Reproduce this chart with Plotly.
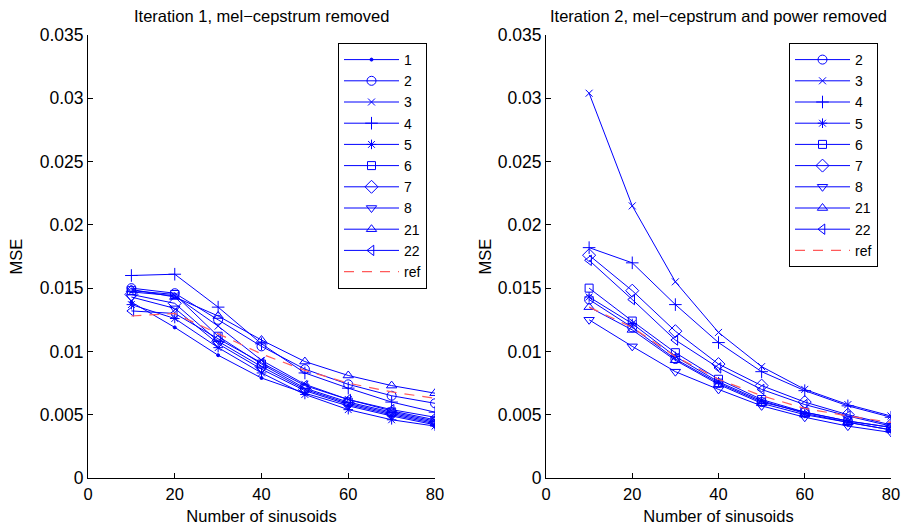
import plotly.graph_objects as go

# ---------------- data ----------------
x_vals = [10, 20, 30, 40, 50, 60, 70, 80]

left_names = ["1", "2", "3", "4", "5", "6", "7", "8", "21", "22"]
left_series = {
    "1":  [0.0139, 0.0119, 0.0097, 0.0079, 0.0067, 0.0057, 0.0049, 0.0042],
    "2":  [0.0150, 0.0146, 0.0125, 0.0104, 0.0086, 0.0074, 0.0065, 0.0059],
    "3":  [0.0147, 0.0144, 0.0120, 0.0093, 0.0074, 0.0062, 0.0053, 0.0046],
    "4":  [0.0160, 0.0161, 0.0135, 0.0106, 0.0083, 0.0071, 0.0060, 0.0052],
    "5":  [0.0137, 0.0126, 0.0103, 0.0083, 0.0066, 0.0054, 0.0046, 0.0041],
    "6":  [0.0148, 0.0145, 0.0112, 0.0090, 0.0071, 0.0060, 0.0052, 0.0045],
    "7":  [0.0145, 0.0138, 0.0108, 0.0088, 0.0070, 0.0059, 0.0051, 0.0044],
    "8":  [0.0143, 0.0134, 0.0106, 0.0086, 0.0069, 0.0058, 0.0050, 0.0043],
    "21": [0.0149, 0.0143, 0.0128, 0.0109, 0.0092, 0.0081, 0.0073, 0.0067],
    "22": [0.0132, 0.0130, 0.0110, 0.0091, 0.0073, 0.0062, 0.0054, 0.0048],
}
left_ref = [0.0128, 0.0130, 0.0114, 0.0098, 0.0085, 0.0075, 0.0068, 0.0063]

right_names = ["2", "3", "4", "5", "6", "7", "8", "21", "22"]
right_series = {
    "2":  [0.0141, 0.0119, 0.0094, 0.0075, 0.0060, 0.0052, 0.0045, 0.0040],
    "3":  [0.0304, 0.0215, 0.0155, 0.0115, 0.0088, 0.0070, 0.0058, 0.0049],
    "4":  [0.0182, 0.0170, 0.0137, 0.0107, 0.0084, 0.0069, 0.0057, 0.0048],
    "5":  [0.0143, 0.0122, 0.0096, 0.0076, 0.0061, 0.0051, 0.0044, 0.0038],
    "6":  [0.0150, 0.0124, 0.0099, 0.0078, 0.0062, 0.0052, 0.0045, 0.0040],
    "7":  [0.0176, 0.0148, 0.0116, 0.0090, 0.0073, 0.0060, 0.0050, 0.0042],
    "8":  [0.0125, 0.0104, 0.0084, 0.0070, 0.0057, 0.0048, 0.0041, 0.0036],
    "21": [0.0135, 0.0117, 0.0093, 0.0074, 0.0059, 0.0050, 0.0044, 0.0038],
    "22": [0.0172, 0.0141, 0.0109, 0.0087, 0.0070, 0.0058, 0.0049, 0.0041],
}
right_ref = [0.0135, 0.0119, 0.0096, 0.0078, 0.0065, 0.0055, 0.0049, 0.0044]

y_tickvals = [0, 0.005, 0.01, 0.015, 0.02, 0.025, 0.03, 0.035]
y_ticktext = ["0", "0.005", "0.01", "0.015", "0.02", "0.025", "0.03", "0.035"]
x_tickvals = [0, 20, 40, 60, 80]

title_left = "Iteration 1, mel\u2212cepstrum removed"
title_right = "Iteration 2, mel\u2212cepstrum and power removed"
x_title = "Number of sinusoids"
y_title = "MSE"

# ---------------- styles ----------------
BLUE = "#0000ff"
symbols = {
    "1": ("circle", 3),
    "2": ("circle-open", 9),
    "3": ("x-thin-open", 7),
    "4": ("cross-thin-open", 9),
    "5": ("asterisk-open", 8),
    "6": ("square-open", 8),
    "7": ("diamond-open", 10),
    "8": ("triangle-down-open", 9),
    "21": ("triangle-up-open", 9),
    "22": ("triangle-left-open", 9),
}

FONT = "Liberation Sans, Arial, Helvetica, sans-serif"
FS = 16.5

fig = go.Figure()

def add_series(names, data, ref, xa, ya, legend):
    for n in names:
        sym, sz = symbols[n]
        fig.add_trace(go.Scatter(
            x=x_vals, y=data[n], name=n, mode="lines+markers",
            line=dict(color=BLUE, width=1),
            marker=dict(symbol=sym, size=sz, color=BLUE,
                        line=dict(color=BLUE, width=1)),
            xaxis=xa, yaxis=ya, legend=legend, hoverinfo="skip",
        ))
    fig.add_trace(go.Scatter(
        x=x_vals, y=ref, name="ref", mode="lines",
        line=dict(color="#ff5a5a", width=1.2, dash="10px,8px"),
        xaxis=xa, yaxis=ya, legend=legend, hoverinfo="skip",
    ))

add_series(left_names, left_series, left_ref, "x", "y", "legend")
add_series(right_names, right_series, right_ref, "x2", "y2", "legend2")

W, H = 904, 527
x0L, x1L = 88 / W, 435 / W
x0R, x1R = 546 / W, 891 / W
yb, yt = 1 - 478 / H, 1 - 35 / H

axis_common = dict(
    showline=True, linecolor="black", linewidth=1,
    ticks="inside", ticklen=5, tickcolor="black",
    showgrid=False, zeroline=False, mirror=False,
)

xax = dict(axis_common, range=[0, 80], tickvals=x_tickvals,
           ticklabelstandoff=1,
           tickfont=dict(family=FONT, size=16.5, color="black"),
           title=dict(text=x_title,
                      font=dict(family=FONT, size=FS, color="black"),
                      standoff=8))
yax = dict(axis_common, range=[0, 0.035], tickvals=y_tickvals,
           ticktext=y_ticktext,
           tickfont=dict(family=FONT, size=17.5, color="black"))

legend_common = dict(
    bgcolor="white", bordercolor="black", borderwidth=1,
    font=dict(family=FONT, size=14, color="black"),
    xanchor="right", yanchor="top", tracegroupgap=0,
    itemwidth=55,
)

title_font = dict(family=FONT, size=FS, color="black")

fig.update_layout(
    width=W, height=H,
    margin=dict(l=0, r=0, t=0, b=0, autoexpand=False),
    paper_bgcolor="white", plot_bgcolor="white",
    hovermode=False,
    xaxis=dict(xax, domain=[x0L, x1L], anchor="y"),
    yaxis=dict(yax, domain=[yb, yt], anchor="x"),
    xaxis2=dict(xax, domain=[x0R, x1R], anchor="y2"),
    yaxis2=dict(yax, domain=[yb, yt], anchor="x2"),
    legend=dict(legend_common, x=427 / W, y=1 - 43 / H),
    legend2=dict(legend_common, x=878 / W, y=1 - 43 / H),
    showlegend=True,
    annotations=[
        dict(text=title_left, x=(x0L + x1L) / 2, y=1 - 16 / H,
             xref="paper", yref="paper", showarrow=False,
             xanchor="center", yanchor="middle", font=title_font),
        dict(text=title_right, x=(x0R + x1R) / 2, y=1 - 16 / H,
             xref="paper", yref="paper", showarrow=False,
             xanchor="center", yanchor="middle", font=title_font),
        dict(text=y_title, x=15 / W, y=(yb + yt) / 2, textangle=-90,
             xref="paper", yref="paper", showarrow=False,
             xanchor="center", yanchor="middle", font=title_font),
        dict(text=y_title, x=484 / W, y=(yb + yt) / 2, textangle=-90,
             xref="paper", yref="paper", showarrow=False,
             xanchor="center", yanchor="middle", font=title_font),
    ],
)

fig.write_html(
    "out.html",
    config={"displayModeBar": False, "staticPlot": True},
    post_script="document.body.style.margin='0';document.body.style.overflow='hidden';",
)
